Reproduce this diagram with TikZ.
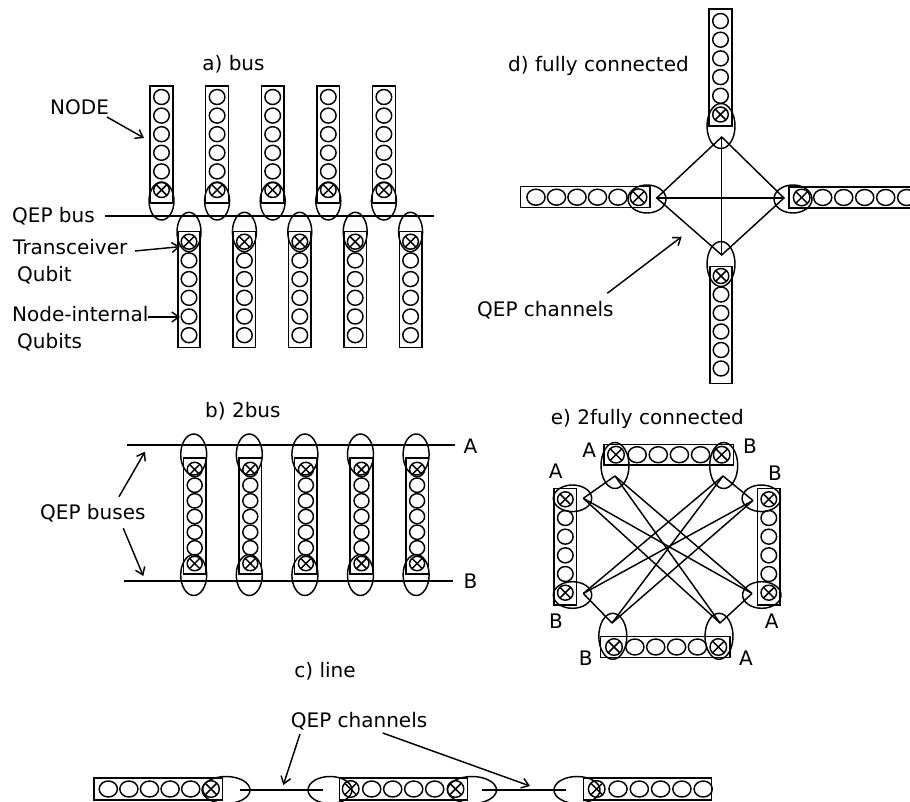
\documentclass[tikz,border=0pt]{standalone}
\usepackage{fontspec}
\setmainfont{DejaVu Sans}
\usetikzlibrary{arrows.meta}
\tikzset{
  ln/.style={line width=1.45pt},
  lab/.style={font=\fontsize{20}{24}\selectfont, inner sep=0pt, anchor=base west},
  labc/.style={font=\fontsize{20}{24}\selectfont, inner sep=0pt, anchor=base},
  arr/.style={line width=1.45pt, -{Straight Barb[length=7pt,width=10pt]}},
  vq/.pic={\draw[ln] (0,0) ellipse[x radius=7.8pt,y radius=7.5pt];},
  vx/.pic={\draw[ln] (0,0) ellipse[x radius=7.8pt,y radius=7.5pt];
           \draw[ln] (-5.4,-5.4)--(5.4,5.4) (-5.4,5.4)--(5.4,-5.4);},
  bq/.pic={\draw[ln] (0,0) ellipse[x radius=7.5pt,y radius=7.2pt];},
  bx/.pic={\draw[ln] (0,0) ellipse[x radius=7.5pt,y radius=7.2pt];
           \draw[ln] (-5.2,-5.2)--(5.2,5.2) (-5.2,5.2)--(5.2,-5.2);},
  hq/.pic={\draw[ln] (0,0) ellipse[x radius=9.1pt,y radius=8pt];},
  hx/.pic={\draw[ln] (0,0) circle[radius=8.3pt];
           \draw[ln] (-5.8,-5.8)--(5.8,5.8) (-5.8,5.8)--(5.8,-5.8);},
}
\begin{document}
\begin{tikzpicture}[x=1pt,y=-1pt]
\useasboundingbox (0,0) rectangle (910,802);
\clip (0,0) rectangle (910,802);

% ---------------- a) bus ----------------
\node[labc] (ta) at (233.5,70.5) {a) bus};
\foreach \i in {0,...,4}{
  \pgfmathsetmacro\cx{161.5+55.6*\i}
  \draw[ln] (\cx-11.4,86) rectangle (\cx+11.4,203);
  \foreach \k in {0,...,4}{\pic at (\cx,97+18.6*\k) {vq};}
  \pic at (\cx,190) {vx};
  \draw[ln] (\cx,201) ellipse[x radius=12.5pt,y radius=19pt];
}
\foreach \i in {0,...,4}{
  \pgfmathsetmacro\cx{189+55.4*\i}
  \draw[ln] (\cx-11.2,231.7) rectangle (\cx+11.2,347.7);
  \pic at (\cx,241.7) {vx};
  \foreach \k in {1,...,5}{\pic at (\cx,241.7+18.7*\k) {vq};}
  \draw[ln] (\cx,232) ellipse[x radius=12pt,y radius=19.7pt];
}
\coordinate (busL) at (105,216);
\coordinate (busR) at (434,216);
\draw[ln] (busL)--(busR);
\node[lab] (lnode) at (50,115) {NODE};
\coordinate (lnodeS) at (107,117);
\coordinate (lnodeT) at (144,138);
\draw[arr] (lnodeS)--(lnodeT);
\node[lab] (lbus) at (12,222.7) {QEP bus};
\node[lab] (ltr) at (13,255) {Transceiver};
\node[lab] (lqb) at (17,281.3) {Qubit};
\coordinate (ltrS) at (135,251);
\coordinate (ltrT) at (180,246.7);
\draw[arr] (ltrS)--(ltrT);
\node[lab] (lni) at (12,321.3) {Node-internal};
\node[lab] (lqbs) at (17,348) {Qubits};
\coordinate (lniS) at (148,317);
\coordinate (lniT) at (180,317);
\draw[arr] (lniS)--(lniT);

% ---------------- d) fully connected ----------------
\node[lab] (td) at (508,72) {d) fully connected};
% top
\draw[ln] (709,9) rectangle (732,126);
\foreach \k in {0,...,4}{\pic at (720.5,21+18.7*\k) {vq};}
\pic at (720.5,114.5) {vx};
\draw[ln] (721,126) ellipse[x radius=14pt,y radius=22.5pt];
% bottom
\draw[ln] (710,266.7) rectangle (732,383.3);
\pic at (721,276) {vx};
\foreach \k in {1,...,5}{\pic at (721,276+18.5*\k) {vq};}
\draw[ln] (721,264) ellipse[x radius=14pt,y radius=22.5pt];
% left
\draw[ln] (520.7,186.7) rectangle (650,207.7);
\foreach \k in {0,...,4}{\pic at (536+20.5*\k,197.2) {hq};}
\pic at (638.5,197.2) {hx};
\draw[ln] (647,199) ellipse[x radius=19pt,y radius=14pt];
% right
\draw[ln] (789,187) rectangle (915,208);
\pic at (801.7,197.5) {hx};
\foreach \k in {0,...,4}{\pic at (822.7+21*\k,197.5) {hq};}
\draw[ln] (793,199) ellipse[x radius=19pt,y radius=14pt];
% channels
\coordinate (dT) at (721.7,137);
\coordinate (dL) at (656.7,198);
\coordinate (dR) at (784,198);
\coordinate (dB) at (721.7,255);
\draw[ln] (dT)--(dR)--(dB)--(dL)--cycle;
\draw[ln] (dT)--(dB);
\draw[ln] (dL)--(dR);
\node[lab] (ldch) at (477,316.3) {QEP channels};
\coordinate (ldchS) at (607.3,293.3);
\coordinate (ldchT) at (681.7,236.7);
\draw[arr] (ldchS)--(ldchT);

% ---------------- b) 2bus ----------------
\node[lab] (tb) at (205,417) {b) 2bus};
\coordinate (bAL) at (126.7,445); \coordinate (bAR) at (455,445);
\coordinate (bBL) at (124,581);   \coordinate (bBR) at (453,581);
\draw[ln] (bAL)--(bAR);
\draw[ln] (bBL)--(bBR);
\node[lab] (lbA) at (463.3,453) {A};
\node[lab] (lbB) at (463.3,588) {B};
\foreach \i in {0,...,4}{
  \pgfmathsetmacro\cx{194.7+55.6*\i}
  \draw[ln] (\cx-11.3,458) rectangle (\cx+11.3,574);
  \pic at (\cx,469.5) {bx};
  \pic at (\cx,563.5) {bx};
  \foreach \k in {1,...,5}{\pic at (\cx,469.5+15.67*\k) {bq};}
  \draw[ln] (\cx-1,454.5) ellipse[x radius=13pt,y radius=20.5pt];
  \draw[ln] (\cx-1,575) ellipse[x radius=13pt,y radius=20.5pt];
}
\node[lab] (lbuses) at (40,519.6) {QEP buses};
\coordinate (lbS1) at (119,496.7); \coordinate (lbT1) at (145,451.7);
\coordinate (lbS2) at (123.3,528.3); \coordinate (lbT2) at (143.3,576);
\draw[arr] (lbS1)--(lbT1);
\draw[arr] (lbS2)--(lbT2);

% ---------------- e) 2fully connected ----------------
\node[lab] (te) at (550.7,424) {e) 2fully connected};
% top
\draw[ln] (604,444.3) rectangle (733.3,465);
\pic at (616,454.7) {hx};
\pic at (721.7,454.7) {hx};
\foreach \k in {1,...,4}{\pic at (616+21.14*\k,454.7) {hq};}
\draw[ln] (615,465.5) ellipse[x radius=14pt,y radius=23pt];
\draw[ln] (723.7,465.5) ellipse[x radius=14pt,y radius=23pt];
% bottom
\draw[ln] (600.7,636.7) rectangle (730,657.3);
\pic at (614,647) {hx};
\pic at (718.3,647) {hx};
\foreach \k in {1,...,4}{\pic at (614+20.86*\k,647) {hq};}
\draw[ln] (612.8,636.3) ellipse[x radius=14pt,y radius=23pt];
\draw[ln] (719,636.3) ellipse[x radius=14pt,y radius=23pt];
% left
\draw[ln] (554,488.3) rectangle (576.7,605);
\pic at (565.3,499.3) {vx};
\pic at (565.3,592.7) {vx};
\foreach \k in {1,...,4}{\pic at (565.3,499.3+18.68*\k) {vq};}
\draw[ln] (572.5,498.3) ellipse[x radius=19.2pt,y radius=13.3pt];
\draw[ln] (572.5,595) ellipse[x radius=19.2pt,y radius=13.3pt];
% right
\draw[ln] (757.7,488.3) rectangle (780,605);
\pic at (768.8,499.3) {vx};
\pic at (768.8,592.7) {vx};
\foreach \k in {1,...,4}{\pic at (768.8,499.3+18.68*\k) {vq};}
\draw[ln] (761.3,498.3) ellipse[x radius=19.2pt,y radius=13.3pt];
\draw[ln] (761.8,595) ellipse[x radius=19.2pt,y radius=13.3pt];
% channel end points
\coordinate (eTA) at (615,476);
\coordinate (eTB) at (723,476);
\coordinate (eLA) at (583.3,498.3);
\coordinate (eLB) at (583.3,593.5);
\coordinate (eRB) at (753,500.5);
\coordinate (eRA) at (752,593.5);
\coordinate (eBB) at (612,623);
\coordinate (eBA) at (720,623);
% network A
\draw[ln] (eTA)--(eLA);
\draw[ln] (eTA)--(eRA);
\draw[ln] (eTA)--(eBA);
\draw[ln] (eLA)--(eRA);
\draw[ln] (eLA)--(eBA);
\draw[ln] (eRA)--(eBA);
% network B
\draw[ln] (eTB)--(eRB);
\draw[ln] (eTB)--(eLB);
\draw[ln] (eTB)--(eBB);
\draw[ln] (eRB)--(eLB);
\draw[ln] (eRB)--(eBB);
\draw[ln] (eLB)--(eBB);
% labels
\node[labc] (leTA) at (589.3,457.7) {A};
\node[labc] (leTB) at (750,453.3) {B};
\node[labc] (leLA) at (555.7,478.3) {A};
\node[labc] (leRB) at (775,480) {B};
\node[labc] (leLB) at (556,628.3) {B};
\node[labc] (leRA) at (771.7,628.3) {A};
\node[labc] (leBB) at (585.8,665) {B};
\node[labc] (leBA) at (746,665) {A};

% ---------------- c) line ----------------
\node[labc] (tc) at (325,677) {c) line};
\node[lab] (lcch) at (290.7,727) {QEP channels};
% left node
\draw[ln] (94,778) rectangle (222.7,800);
\foreach \k in {0,...,4}{\pic at (108.3+20.6*\k,789) {hq};}
\pic at (211,789) {hx};
\draw[ln] (226,790) ellipse[x radius=24pt,y radius=13.5pt];
% middle node
\draw[ln] (339.3,778) rectangle (467.3,800);
\pic at (350.7,789) {hx};
\pic at (455.5,789) {hx};
\foreach \k in {1,...,4}{\pic at (350.7+21*\k,789) {hq};}
\draw[ln] (330,790) ellipse[x radius=22pt,y radius=13.5pt];
\draw[ln] (472,790) ellipse[x radius=24.5pt,y radius=13.5pt];
% right node
\draw[ln] (583.3,778) rectangle (711.7,800);
\pic at (596.7,789) {hx};
\foreach \k in {0,...,4}{\pic at (618+21.3*\k,789) {hq};}
\draw[ln] (577,790) ellipse[x radius=23pt,y radius=13.5pt];
% channels
\coordinate (c1a) at (240,790); \coordinate (c1b) at (323.3,790);
\coordinate (c2a) at (481.7,790); \coordinate (c2b) at (566,790);
\draw[ln] (c1a)--(c1b);
\draw[ln] (c2a)--(c2b);
\coordinate (lcS1) at (300,734); \coordinate (lcT1) at (283.3,785);
\coordinate (lcS2) at (382.7,733); \coordinate (lcT2) at (530,786);
\draw[arr] (lcS1)--(lcT1);
\draw[arr] (lcS2)--(lcT2);
\end{tikzpicture}
\end{document}
